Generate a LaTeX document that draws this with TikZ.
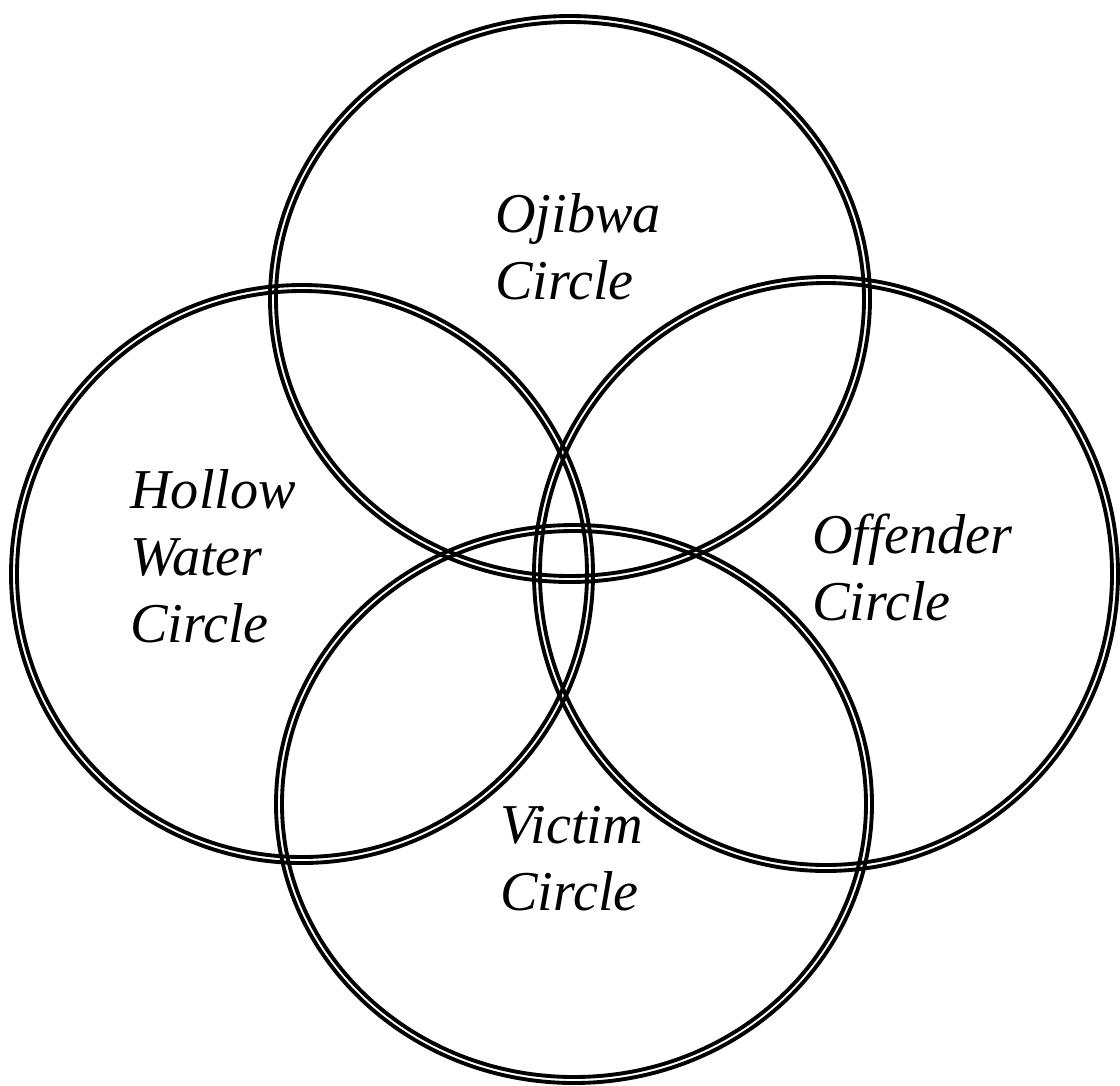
\documentclass[tikz,border=0pt]{standalone}
\usepackage{fontspec}
\setmainfont{Liberation Serif}
\begin{document}
\begin{tikzpicture}[scale=0.2]
		\tikzstyle{every node}+=[inner sep=0pt]
		\tikzstyle{label}=[anchor=base west, align=left, font=\fontsize{32pt}{38pt}\selectfont\itshape]
		\useasboundingbox (0,0) rectangle (112,-108.5);
		% Ojibwa circle
		\draw [black, line width=2.2pt] (57.0,-29.9) ellipse (30.0 and 28.3);
		\draw [black, line width=2.2pt] (57.0,-29.9) ellipse (29.4 and 27.7);
		% Hollow Water circle
		\draw [black, line width=2.2pt] (30.2,-57.4) ellipse (29.1 and 28.9);
		\draw [black, line width=2.2pt] (30.2,-57.4) ellipse (28.5 and 28.3);
		% Offender circle
		\draw [black, line width=2.2pt] (82.6,-57.4) ellipse (29.2 and 29.7);
		\draw [black, line width=2.2pt] (82.6,-57.4) ellipse (28.6 and 29.1);
		% Victim circle
		\draw [black, line width=2.2pt] (57.4,-80.4) ellipse (29.8 and 27.9);
		\draw [black, line width=2.2pt] (57.4,-80.4) ellipse (29.2 and 27.3);
		% labels (base = last line)
		\node [label] (ojibwa) at (49.5,-29.9) {Ojibwa\\Circle};
		\node [label] (hollow) at (13.0,-64.2) {Hollow\\Water\\Circle};
		\node [label] (offender) at (81.2,-62.0) {Offender\\Circle};
		\node [label] (victim) at (50.0,-91.0) {Victim\\Circle};
	\end{tikzpicture}
\end{document}
